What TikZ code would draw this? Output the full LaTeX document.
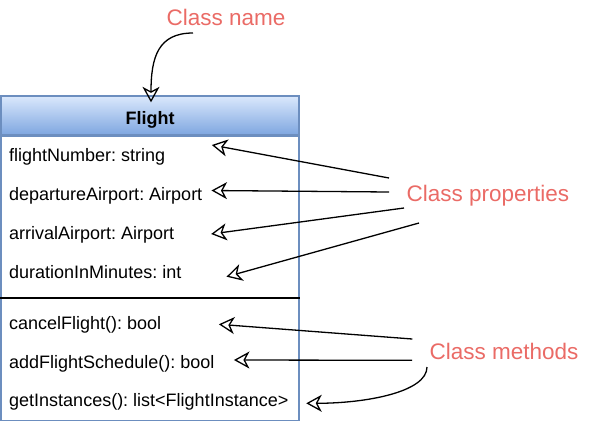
\documentclass[tikz,border=0pt]{standalone}
\usepackage{fontspec}
\setmainfont{Liberation Sans}
\usetikzlibrary{arrows.meta, positioning, calc}
\usepackage{xcolor}
\frenchspacing
\definecolor{umlborder}{HTML}{6C8EBF}
\definecolor{umltop}{HTML}{DAE8FC}
\definecolor{umlbottom}{HTML}{7EA6E0}
\definecolor{notered}{HTML}{EA6B66}
\tikzset{
  header/.style={rectangle, minimum width=298pt, minimum height=39pt, text height=17pt, text depth=0pt, draw=umlborder, line width=1.3pt, top color=umltop, bottom color=umlbottom, font=\fontsize{18}{20}\selectfont\bfseries},
  compartment/.style={rectangle, minimum width=298pt, inner sep=0pt, draw=umlborder, line width=1.3pt, fill=white},
  member/.style={anchor=base west, inner sep=0pt, font=\fontsize{18}{20}\selectfont},
  note/.style={anchor=base, inner sep=0pt, text=notered, font=\fontsize{22.5}{26}\selectfont},
  pointer/.style={line width=1.3pt, -{Stealth[open, length=15.5pt, width=17pt, inset=4.5pt]}, color=black},
  divider/.style={line width=1.8pt, color=black}
}
\begin{document}
\begin{tikzpicture}[x=1pt, y=-1pt]
    \useasboundingbox (0,0) rectangle (597,445);
    % Defining nodes
    \node[header] (head) at (150,115.5) {Flight};
    \node[compartment, minimum height=161pt, below=0pt of head] (attrs) {};
    \node[compartment, minimum height=122pt, below=0pt of attrs] (ops) {};
    \node[member] (number) at (9,161.7) {flightNumber: string};
    \node[member] (departure) at (9,200.5) {departureAirport: Airport};
    \node[member] (arrival) at (9,239.3) {arrivalAirport: Airport};
    \node[member] (duration) at (9,278.1) {durationInMinutes: int};
    \node[member] (cancel) at (9,329.3) {cancelFlight(): bool};
    \node[member] (schedule) at (9,368) {addFlightSchedule(): bool};
    \node[member] (instances) at (9,406.7) {getInstances(): list<FlightInstance>};
    \node[note] (classname) at (226,25) {Class name};
    \node[note] (properties) at (488,201.7) {Class properties};
    \node[note] (methods) at (504,359.3) {Class methods};

    % Drawing arrows
    \draw[divider] (attrs.south west) -- (attrs.south east);
    \draw[pointer] ($(classname.base)+(-33,8)$) .. controls +(-35,0) and +(0,-45) .. ($(head.north)+(1,7)$);
    \draw[pointer] ($(properties.base)+(-99,-23.7)$) -- ($(number.base east)+(46.4,-16.7)$);
    \draw[pointer] ($(properties.base)+(-99,-9.7)$) -- ($(departure.base east)+(9,-10)$);
    \draw[pointer] ($(properties.base)+(-84,6.3)$) -- ($(arrival.base east)+(36.7,-5.3)$);
    \draw[pointer] ($(properties.base)+(-69,21.3)$) -- ($(duration.base east)+(45,-1.4)$);
    \draw[pointer] ($(methods.base)+(-91.7,-20.3)$) -- ($(cancel.base east)+(57.4,-5)$);
    \draw[pointer] ($(methods.base)+(-92,1)$) -- ($(schedule.base east)+(19.4,-8)$);
    \draw[pointer] ($(methods.base)+(-77,7.7)$) .. controls +(0,25) and +(60,0) .. ($(instances.base east)+(17.7,-3.4)$);
\end{tikzpicture}
\end{document}
